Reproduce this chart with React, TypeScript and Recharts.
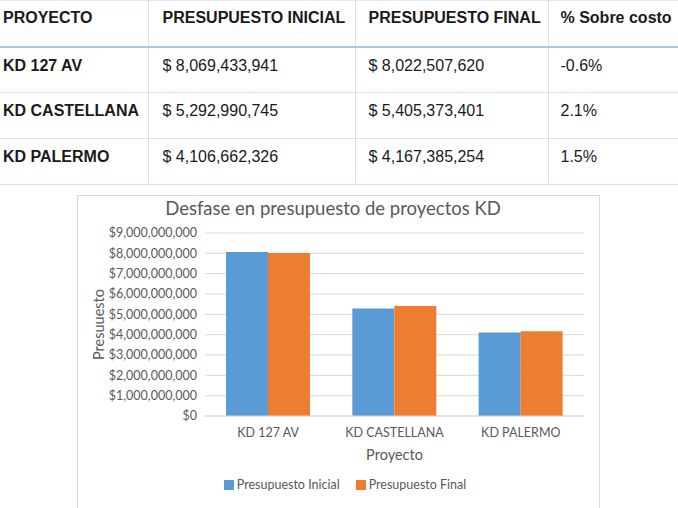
import { BarChart, Bar, XAxis, YAxis, CartesianGrid, Legend } from 'recharts';

// Datos de la tabla y del gráfico
const proyectos = ['KD 127 AV', 'KD CASTELLANA', 'KD PALERMO'];
const presupuestoInicial = [8069433941, 5292990745, 4106662326];
const presupuestoFinal = [8022507620, 5405373401, 4167385254];
const sobreCosto = ['-0.6%', '2.1%', '1.5%'];
const encabezados = ['PROYECTO', 'PRESUPUESTO INICIAL', 'PRESUPUESTO FINAL', '% Sobre costo'];
const yTicks = [0, 1e9, 2e9, 3e9, 4e9, 5e9, 6e9, 7e9, 8e9, 9e9];
const series = ['Presupuesto Inicial', 'Presupuesto Final'];

const BLUE = '#5B9BD5';
const ORANGE = '#ED7D31';
const GRAY = '#595959';
const FONT = 'Lato, "Open Sans", sans-serif';
const COLORS = [BLUE, ORANGE];

const data = proyectos.map((p, i) => ({
  proyecto: p,
  inicial: presupuestoInicial[i],
  final: presupuestoFinal[i],
}));

const money = (v: number) => '$' + v.toLocaleString('en-US');
const moneyTable = (v: number) => '$ ' + v.toLocaleString('en-US');

const colWidths = [148, 207, 193, 130];
const padLeft = [3, 14, 13, 12];

function Tabla() {
  const cell = (i: number, bold: boolean, header: boolean) => ({
    width: colWidths[i],
    boxSizing: 'border-box' as const,
    paddingLeft: padLeft[i],
    paddingTop: header ? 8 : 9,
    verticalAlign: 'top' as const,
    textAlign: 'left' as const,
    fontWeight: bold ? 700 : 400,
    borderLeft: i > 0 ? '1px solid #d6e4f2' : 'none',
    whiteSpace: 'nowrap' as const,
  });
  return (
    <table
      style={{
        position: 'absolute', left: 0, top: 0, width: 678, borderCollapse: 'collapse',
        tableLayout: 'fixed', fontFamily: '"Liberation Sans", Arial, sans-serif', fontSize: 16, color: '#1a1a1a',
      }}
    >
      <tbody>
        <tr style={{ height: 46, borderTop: '1px solid #e3ecf6', borderBottom: '2px solid #a9c6e3' }}>
          {encabezados.map((h, i) => (
            <td key={h} style={cell(i, true, true)}>{h}</td>
          ))}
        </tr>
        {proyectos.map((p, r) => (
          <tr key={p} style={{ height: 46, borderBottom: '1px solid #d6e4f2' }}>
            <td style={cell(0, true, false)}>{p}</td>
            <td style={cell(1, false, false)}>{moneyTable(presupuestoInicial[r])}</td>
            <td style={cell(2, false, false)}>{moneyTable(presupuestoFinal[r])}</td>
            <td style={cell(3, false, false)}>{sobreCosto[r]}</td>
          </tr>
        ))}
      </tbody>
    </table>
  );
}

function Leyenda() {
  return (
    <div style={{ display: 'flex', justifyContent: 'center', alignItems: 'center', gap: 16, fontSize: 12.5, color: GRAY, fontFamily: FONT }}>
      {series.map((s, i) => (
        <span key={s} style={{ display: 'inline-flex', alignItems: 'center' }}>
          <span style={{ display: 'inline-block', width: 10, height: 10, background: COLORS[i], marginRight: 3 }} />
          {s}
        </span>
      ))}
    </div>
  );
}

export default function App() {
  return (
    <div style={{ position: 'absolute', left: 0, top: 0, width: 678, height: 508, overflow: 'hidden', background: '#fff' }}>
      <Tabla />
      <div
        style={{
          position: 'absolute', left: 77, top: 195, width: 523, height: 330, boxSizing: 'border-box',
          border: '1px solid #d9d9d9', background: '#fff', fontFamily: FONT,
        }}
      >
        <div
          style={{
            position: 'absolute', left: 0, top: 0, width: 510, lineHeight: '24px', textAlign: 'center',
            fontSize: 18.5, color: GRAY,
          }}
        >
          Desfase en presupuesto de proyectos KD
        </div>
        <BarChart
          width={521}
          height={312}
          data={data}
          margin={{ top: 37, right: 15, bottom: 11, left: 0 }}
          barCategoryGap="16.6%"
          barGap={0}
        >
          <CartesianGrid vertical={false} stroke="#d9d9d9" />
          <XAxis
            dataKey="proyecto"
            height={61}
            tickLine={false}
            tickMargin={6}
            axisLine={{ stroke: '#d9d9d9' }}
            tick={{ fill: GRAY, fontSize: 12.5, fontFamily: FONT }}
            label={{ value: 'Proyecto', position: 'insideBottom', offset: 17, fill: GRAY, fontSize: 14.5, fontFamily: FONT }}
          />
          <YAxis
            width={127}
            domain={[0, 9e9]}
            ticks={yTicks}
            interval={0}
            tickFormatter={money}
            tickLine={false}
            axisLine={false}
            tick={{ fill: GRAY, fontSize: 12.5, fontFamily: FONT }}
            label={{
              content: (props: any) => {
                const vb = props.viewBox || {};
                const cy = (vb.y ?? 0) + (vb.height ?? 0) / 2;
                return (
                  <text
                    x={20}
                    y={cy}
                    transform={`rotate(-90, 20, ${cy})`}
                    textAnchor="middle"
                    dominantBaseline="central"
                    fill={GRAY}
                    fontSize={14.5}
                    fontFamily={FONT}
                  >
                    Presuuesto
                  </text>
                );
              },
            }}
          />
          <Legend
            verticalAlign="bottom"
            wrapperStyle={{ height: 20, left: 10, width: 514 }}
            content={() => <Leyenda />}
          />
          <Bar dataKey="inicial" name={series[0]} fill={BLUE} isAnimationActive={false} />
          <Bar dataKey="final" name={series[1]} fill={ORANGE} isAnimationActive={false} />
        </BarChart>
      </div>
    </div>
  );
}
